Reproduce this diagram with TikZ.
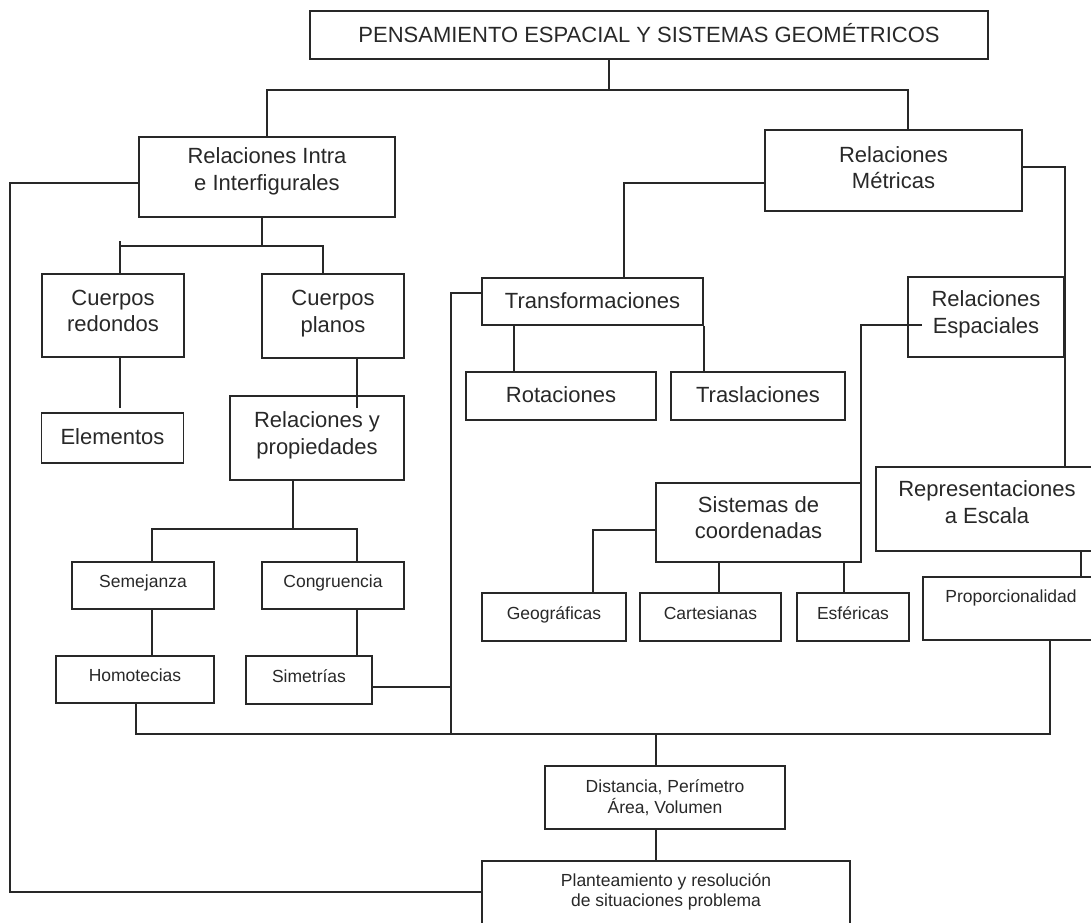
\documentclass[tikz,border=0pt]{standalone}
\usepackage{fontspec}
\setmainfont{Liberation Sans}
\definecolor{ink}{RGB}{40,40,40}
\newcommand\hs[1]{\rule{0pt}{#1pt}}
\newcommand\ds[1]{\rule[-#1pt]{0pt}{#1pt}}
\begin{document}
\begin{tikzpicture}[x=1pt,y=-1pt,
  box/.style={draw=ink, line width=1.8pt, inner sep=0pt, align=center, text=ink},
  med/.style={font=\fontsize{22}{26.5}\selectfont},
  sml/.style={font=\fontsize{17.5}{20.5}\selectfont},
  lbl/.style={inner sep=0pt, align=center, text=ink},
  wh/.style 2 args={minimum width=#1pt, minimum height=#2pt},
  conn/.style={draw=ink, line width=1.5pt}]
\useasboundingbox (0,0) rectangle (1091,922);
\clip (0,0) rectangle (1091,922);

% boxes
\node[box,med,wh={678}{48}] (top) at (649,35) {\hs{17}PENSAMIENTO ESPACIAL Y SISTEMAS GEOMÉTRICOS\ds{5}};
\node[box,med,wh={256}{80}] (ri) at (267,177) {\hs{17}Relaciones Intra\\e Interfigurales\ds{17}};
\node[box,med,wh={257}{81}] (rm) at (893.5,170.5) {\hs{17}Relaciones\\Métricas\ds{7}};
\node[box,med,wh={142}{83}] (cr) at (113,315.5) {\hs{17}Cuerpos\\redondos\ds{11}};
\node[box,med,wh={142}{84}] (cp) at (333,316) {\hs{17}Cuerpos\\planos\ds{11}};
\node[box,med,wh={142}{50}] (el) at (112.5,438) {\hs{17}Elementos\ds{4}};
\node[box,med,wh={174}{84}] (rp) at (317,438) {\hs{17}Relaciones y\\propiedades\ds{11}};
\node[box,sml,wh={142}{47}] (se) at (143,585.5) {\hs{13.5}Semejanza\ds{9}};
\node[box,sml,wh={142}{47}] (co) at (333,585.5) {\hs{13.5}Congruencia\ds{9}};
\node[box,sml,wh={158}{47}] (ho) at (135,679.5) {\hs{13.5}Homotecias\ds{9}};
\node[box,sml,wh={126}{48}] (si) at (309,680) {\hs{13.5}Simetrías\ds{9}};
\node[box,med,wh={221}{47}] (tf) at (592.5,301.5) {\hs{17}Transformaciones\ds{4}};
\node[box,med,wh={190}{48}] (ro) at (561,396) {\hs{17}Rotaciones\ds{4}};
\node[box,med,wh={174}{48}] (tr) at (758,396) {\hs{17}Traslaciones\ds{4}};
\node[box,med,wh={156}{80}] (re) at (986,317) {\hs{17}Relaciones\\Espaciales\ds{11}};
\node[box,med,wh={205}{79}] (sc) at (758.5,522.5) {\hs{17}Sistemas de\\coordenadas\ds{11}};
\node[box,sml,wh={144}{48}] (ge) at (554,617) {\hs{13.5}Geográficas\ds{9}};
\node[box,sml,wh={141}{48}] (ca) at (710.5,617) {\hs{13.5}Cartesianas\ds{9}};
\node[box,sml,wh={112}{48}] (es) at (853,617) {\hs{13.5}Esféricas\ds{9}};
\node[box,med,wh={222}{84}] (rs) at (987,509) {\hs{17}Representaciones\\a Escala\ds{15}};
\node[box,wh={176}{63}] (pr) at (1011,608.5) {};
\node[lbl,sml] (prt) at (1011,600.5) {\hs{13.5}Proporcionalidad\ds{9}};
\node[box,sml,wh={240}{63}] (di) at (665,797.5) {\hs{13.5}Distancia, Perímetro\\Área, Volumen\ds{3}};
\node[box,wh={368}{120}] (pl) at (666,921) {};
\node[lbl,sml] (plt) at (666,891.5) {\hs{13.5}Planteamiento y resolución\\de situaciones problema\ds{3}};

% junction coordinates
\coordinate (j0) at (609,90);
\coordinate (j0r) at (908,90);
\coordinate (l1) at (10,183);
\coordinate (l2) at (10,892);
\coordinate (r1) at (1065,167);
\coordinate (m1) at (624,183);
\coordinate (t1) at (451,293);
\coordinate (t2) at (451,687);
\coordinate (bl) at (451,734);
\coordinate (t3) at (514,0);
\coordinate (e1) at (861,325);
\coordinate (g1) at (593,530);
\coordinate (c1) at (719,0);
\coordinate (c2) at (844,0);
\coordinate (p1) at (1081,0);
\coordinate (br) at (1050,734);
\coordinate (bh) at (136,734);
\coordinate (bm) at (656,734);
\coordinate (k0) at (262,246);
\coordinate (kl) at (120,246);
\coordinate (kt) at (120,241);
\coordinate (kr) at (323,246);
\coordinate (e0) at (120,408);
\coordinate (q0) at (357,408);
\coordinate (s0) at (293,529);
\coordinate (sl) at (152,529);
\coordinate (sr) at (357,529);

% connectors
\draw[conn] (top.south -| j0) -- (j0);
\draw[conn] (ri.north) |- (j0r) -- (j0r |- rm.north);
\draw[conn] (l1 -| ri.west) -- (l1) -- (l2) -- (l2 -| pl.west);
\draw[conn] (r1 -| rm.east) -- (r1) -- (r1 |- rs.north);
\draw[conn] (m1 -| rm.west) -- (m1) -- (m1 |- tf.north);
\draw[conn] (t1 -| tf.west) -- (t1) -- (bl);
\draw[conn] (t2 -| si.east) -- (t2);
\draw[conn] (tf.south -| t3) -- (ro.north -| t3);
\draw[conn] (tf.south east) -- (tr.north -| tf.south east);
\draw[conn] ([xshift=15pt]re.west |- e1) -- (e1) -- (e1 |- sc.north);
\draw[conn] (g1 -| sc.west) -- (g1) -- (g1 |- ge.north);
\draw[conn] (sc.south -| c1) -- (ca.north -| c1);
\draw[conn] (sc.south -| c2) -- (es.north -| c2);
\draw[conn] (rs.south -| p1) -- (pr.north -| p1);
\draw[conn] (pr.south -| br) -- (br) -- (bh) -- (bh |- ho.south);
\draw[conn] (bm) -- (bm |- di.north);
\draw[conn] (di.south -| bm) -- (pl.north -| bm);
\draw[conn] (ri.south -| k0) -- (k0);
\draw[conn] (kl) -- (kr) -- (kr |- cp.north);
\draw[conn] (kt) -- (kt |- cr.north);
\draw[conn] (cr.south -| kl) -- (e0);
\draw[conn] (cp.south -| q0) -- (q0);
\draw[conn] (rp.south -| s0) -- (s0);
\draw[conn] (se.north -| sl) |- (sr) -- (sr |- co.north);
\draw[conn] (se.south -| sl) -- (ho.north -| sl);
\draw[conn] (co.south -| sr) -- (si.north -| sr);
\end{tikzpicture}
\end{document}
